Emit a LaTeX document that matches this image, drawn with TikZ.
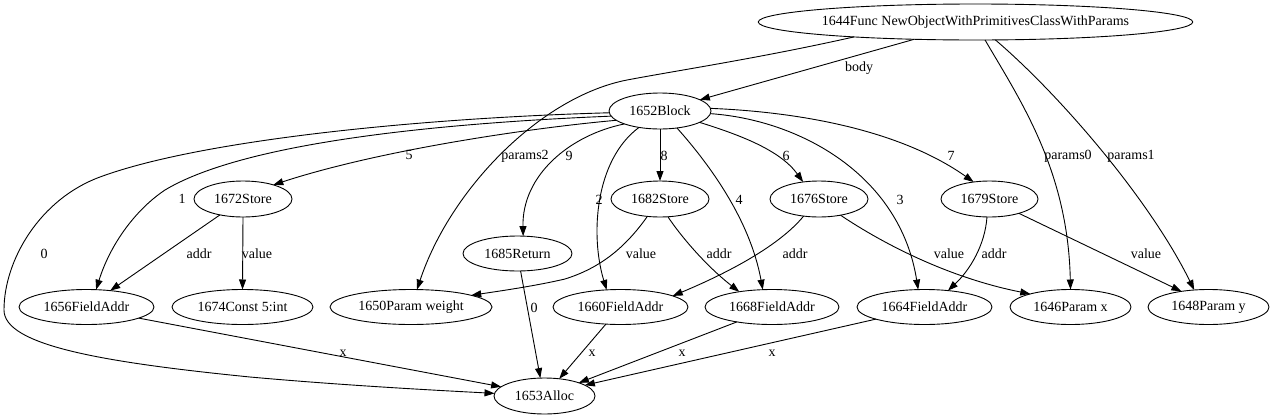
\documentclass[tikz,border=0pt]{standalone}
\usepackage{fontspec}
\setmainfont{Liberation Serif}
\usetikzlibrary{shapes.geometric,arrows.meta}
\begin{document}
\begin{tikzpicture}[x=1pt,y=-1pt,
  nd/.style={ellipse,draw,line width=0.9pt,inner sep=0pt,outer sep=0pt,minimum height=35pt,font=\fontsize{14}{16}\selectfont},
  lbl/.style={inner sep=0pt,font=\fontsize{14}{16}\selectfont},
  arr/.style={line width=0.9pt,-{Triangle[length=10pt,width=7pt]}}]
\useasboundingbox (0,0) rectangle (1274,418);
% nodes
\node[nd,minimum width=431pt,minimum height=36pt] (f) at (975.5,22) {1644Func NewObjectWithPrimitivesClassWithParams};
\node[nd,minimum width=102pt,minimum height=36pt] (b) at (660,111) {1652Block};
\node[nd,minimum width=98pt,minimum height=36pt] (s72) at (243,199) {1672Store};
\node[nd,minimum width=98pt,minimum height=36pt] (s82) at (660,199) {1682Store};
\node[nd,minimum width=98pt,minimum height=36pt] (s76) at (819,199) {1676Store};
\node[nd,minimum width=97pt,minimum height=36pt] (s79) at (989.5,199) {1679Store};
\node[nd,minimum width=109pt] (r85) at (517.5,253.5) {1685Return};
\node[nd,minimum width=135pt] (a56) at (86.5,307) {1656FieldAddr};
\node[nd,minimum width=141pt] (c74) at (242.5,307) {1674Const 5:int};
\node[nd,minimum width=162pt] (p50) at (411,307) {1650Param weight};
\node[nd,minimum width=135pt] (a60) at (620.5,307) {1660FieldAddr};
\node[nd,minimum width=134pt] (a68) at (772,307) {1668FieldAddr};
\node[nd,minimum width=135pt] (a64) at (924.5,307) {1664FieldAddr};
\node[nd,minimum width=121pt] (p46) at (1070.5,307) {1646Param x};
\node[nd,minimum width=121pt] (p48) at (1208.5,307) {1648Param y};
\node[nd,minimum width=101pt,minimum height=36pt] (al) at (544.5,396) {1653Alloc};
% edges from Func
\draw[arr] (f) -- (b);
\draw[arr] (f.187.5) .. controls (760,58) and (680,70) .. (627,80) .. controls (540,97) and (450,190) .. (p50.71);
\draw[arr] (f.-62.2) .. controls (1020,100) and (1068,170) .. (p46.north);
\draw[arr] (f.-42.6) .. controls (1060,95) and (1150,200) .. (p48.130);
% edges from Block
\draw[arr] (b.182) .. controls (420,118) and (200,140) .. (100,177) .. controls (40,199) and (4,260) .. (4,310) .. controls (4,345) and (100,362) .. (250,377) .. controls (350,386) and (450,391) .. (al.177);
\draw[arr] (b.186) .. controls (420,124) and (240,145) .. (165,190) .. controls (135,210) and (110,245) .. (a56.61);
\draw[arr] (b.192) .. controls (530,128) and (380,150) .. (s72.25);
\draw[arr] (b.200) .. controls (570,135) and (522,175) .. (r85.72);
\draw[arr] (b.218) .. controls (595,160) and (590,235) .. (a60.129);
\draw[arr] (b) -- (s82);
\draw[arr] (b.-45) .. controls (710,165) and (750,220) .. (a68.118);
\draw[arr] (b.-16) .. controls (740,135) and (780,150) .. (s76.133);
\draw[arr] (b.-3) .. controls (800,120) and (900,175) .. (a64.110);
\draw[arr] (b.3) .. controls (800,112) and (900,130) .. (s79.133);
% edges from stores
\draw[arr] (s72) -- (a56);
\draw[arr] (s72.south) -- (c74.north);
\draw[arr] (s82.234) .. controls (625,248) and (600,268) .. (565,279) .. controls (535,286) and (500,291) .. (p50.11);
\draw[arr] (s82.-66) .. controls (680,235) and (705,265) .. (a68.155);
\draw[arr] (s76.228) .. controls (780,245) and (730,272) .. (a60.12);
\draw[arr] (s76.-37) .. controls (885,245) and (950,278) .. (p46.162);
\draw[arr] (s79.-98) .. controls (985,245) and (970,270) .. (a64.35);
\draw[arr] (s79.-26) -- (p48.150);
\draw[arr] (r85.-80) -- (al.103);
% edges into Alloc
\draw[arr] (a56.-12) -- (al.168);
\draw[arr] (a60) -- (al);
\draw[arr] (a68.203) -- (al.21.5);
\draw[arr] (a64.194) -- (al.15);
% labels
\node[lbl] (lbody) at (859,68) {body};
\node[lbl] (lp2) at (525,156) {params2};
\node[lbl] (lp0) at (1068,156) {params0};
\node[lbl] (lp1) at (1131,156) {params1};
\node[lbl] (l5) at (409,155) {5};
\node[lbl] (l9) at (569,156) {9};
\node[lbl] (l8) at (664,156) {8};
\node[lbl] (l6) at (786,156) {6};
\node[lbl] (l7) at (951,156) {7};
\node[lbl] (l1) at (182,199) {1};
\node[lbl] (l2) at (599,200) {2};
\node[lbl] (l4) at (739,200) {4};
\node[lbl] (l3) at (900,200) {3};
\node[lbl] (l0) at (44,254) {0};
\node[lbl] (la1) at (199,254) {addr};
\node[lbl] (lv1) at (257,254) {value};
\node[lbl] (lv2) at (641,254) {value};
\node[lbl] (la2) at (719,254) {addr};
\node[lbl] (la3) at (795,254) {addr};
\node[lbl] (lv3) at (949,254) {value};
\node[lbl] (la4) at (994,254) {addr};
\node[lbl] (lv4) at (1146,254) {value};
\node[lbl] (lr0) at (534,308) {0};
\node[lbl] (lx1) at (343,353) {x};
\node[lbl] (lx2) at (592,353) {x};
\node[lbl] (lx3) at (682,353) {x};
\node[lbl] (lx4) at (772,353) {x};
\end{tikzpicture}
\end{document}
